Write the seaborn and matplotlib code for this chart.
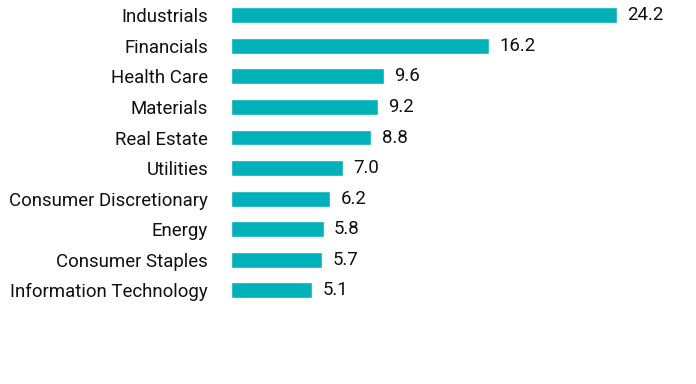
import pandas as pd
import matplotlib.pyplot as plt
import seaborn as sns

sns.set_theme(style="white")
plt.rcParams['font.family'] = ['Roboto', 'DejaVu Sans']

sectors = ['Industrials', 'Financials', 'Health Care', 'Materials', 'Real Estate',
           'Utilities', 'Consumer Discretionary', 'Energy', 'Consumer Staples',
           'Information Technology']
weights = [24.2, 16.2, 9.6, 9.2, 8.8, 7.0, 6.2, 5.8, 5.7, 5.1]

df = pd.DataFrame({'sector': sectors, 'weight': weights})

fig = plt.figure(figsize=(6.96, 3.84), dpi=100)
ax = fig.add_axes([0.3319, 0.204, 0.6, 0.796])

sns.barplot(data=df, x='weight', y='sector', color='#00B1B9', width=0.52,
            saturation=1, ax=ax)

for i, v in enumerate(weights):
    ax.text(v + 0.65, i, f'{v:.1f}', va='center', ha='left', fontsize=13.4, color='#111111')

ax.set_xlim(0, 26.18)
ax.set_ylim(9.5, -0.5)
ax.set_xlabel('')
ax.set_ylabel('')
ax.set_xticks([])
ax.tick_params(axis='y', length=0, pad=16.5, labelsize=13.4, labelcolor='#111111')
for s in ax.spines.values():
    s.set_visible(False)

fig.savefig('out.png', dpi=100)
